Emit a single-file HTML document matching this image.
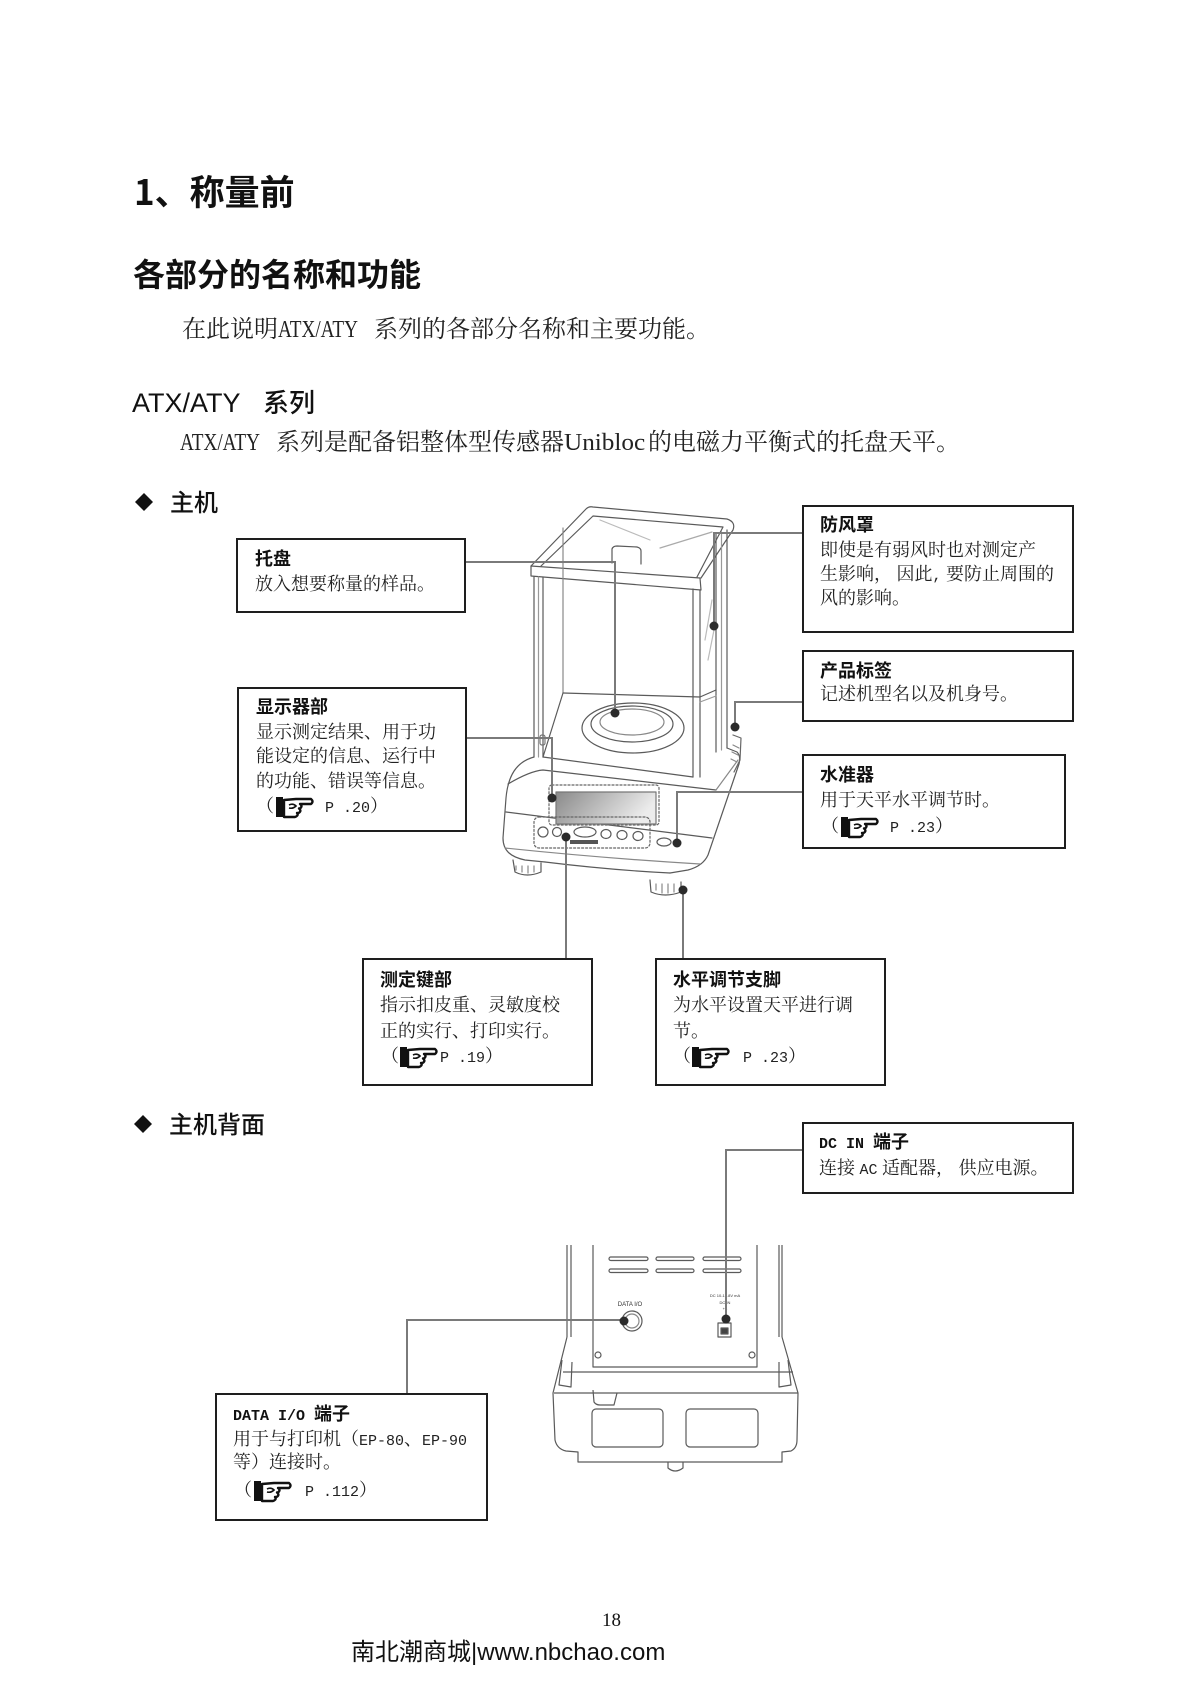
<!DOCTYPE html>
<html><head><meta charset="utf-8">
<style>
html,body{margin:0;padding:0;background:#fff;}
body{width:1200px;height:1695px;position:relative;overflow:hidden;}
.a{position:absolute;white-space:nowrap;}
.m{font-family:"Liberation Mono",monospace;font-size:0.834em;}
.box{position:absolute;border:2px solid #1e1e1e;box-sizing:border-box;background:transparent;}
.bt{position:absolute;font-family:"Liberation Sans","Noto Sans CJK SC",sans-serif;font-weight:700;font-size:18px;line-height:18px;color:#111;white-space:nowrap;}
.bt .m{font-family:"Liberation Mono",monospace;font-weight:700;font-size:15px;}
.bb{position:absolute;font-family:"Liberation Serif","Noto Serif CJK SC",serif;font-size:18px;line-height:18px;color:#222;white-space:nowrap;}
.bb .m{font-size:15px;}
.h{position:absolute;white-space:nowrap;color:#111;font-family:"Noto Sans CJK SC",sans-serif;}
.p{position:absolute;white-space:nowrap;color:#222;font-family:"Noto Serif CJK SC",serif;font-size:24px;line-height:24px;}
.lw{display:inline-block;overflow:visible;white-space:nowrap;}
.ls{display:inline-block;font-family:"Liberation Serif",serif;transform-origin:0 0;}
</style></head>
<body>

<svg width="1200" height="1695" style="position:absolute;left:0;top:0" xmlns="http://www.w3.org/2000/svg">
<defs>
<linearGradient id="lcd" x1="0" y1="0" x2="1" y2="0.3">
<stop offset="0" stop-color="#8a8a8a"/><stop offset="1" stop-color="#ececec"/>
</linearGradient>
</defs>

<polygon points="144,493 153,502 144,511 135,502" fill="#111"/>
<polygon points="143,1115 152,1124 143,1133 134,1124" fill="#111"/>

<g stroke="#5a5a5a" stroke-width="1.2" fill="none" stroke-linejoin="round" stroke-linecap="round">
<path d="M531,566 L586,509 Q589,506 593,507 L727,519 Q736,522 733,530 L701,578"/>
<path d="M531,566 L700,578 L701,590 L531,576 Z"/>
<path d="M541,566 L593,516 L723,527 L697,577"/>
<path d="M612,563 L612,549 Q613,546 617,546 L637,547 Q641,548 641,551 L641,564"/>
<path d="M660,548 L712,532" stroke="#aaa"/>
<path d="M600,520 L650,540" stroke="#bbb"/>
<path d="M534,577 V757 M543,577 V757"/>
<path d="M538.5,577 V757" stroke="#999"/>
<path d="M693,589 V777 M700,590 V777"/>
<path d="M716,534 V752 M727,530 V748"/>
<path d="M721.5,532 V750" stroke="#999"/>
<path d="M563,528 V693" stroke="#888"/>
<path d="M563,693 L700,697"/>
<path d="M543,757 L563,693"/>
<path d="M543,757 L693,777"/>
<path d="M700,697 L716,690"/>
<path d="M700,702 L716,696" stroke="#999"/>
<path d="M705,640 L712,600 M708,660 L714,630" stroke="#bbb"/>
<rect x="540" y="735" width="5" height="10" rx="2" stroke="#777"/>
<ellipse cx="633" cy="728" rx="51" ry="25"/>
<ellipse cx="632" cy="724" rx="41" ry="18"/>
<ellipse cx="632" cy="722" rx="32" ry="13" stroke="#888"/>
<path d="M534,757 C516,762 508,776 506,798 L503,838 C503,851 511,857 525,860 L545,862"/>
<path d="M545,862 Q610,870 670,873"/>
<path d="M727,748 L737,752 Q741,756 739,764 L708,855 Q703,866 688,870 L670,873"/>
<path d="M508,784 Q530,771 543,770 L716,790"/>
<path d="M506,812 Q600,824 712,838"/>
<path d="M505,848 Q600,858 700,864" stroke="#888"/>
<path d="M716,790 L738,760" stroke="#888"/>
<path d="M733,735 L741,738 L740,760 L734,772" stroke="#666"/>
<path d="M733,745 L739,748 M732,752 L738,755 M731,759 L737,762" stroke="#888"/>
<rect x="549" y="785" width="110" height="40" rx="3" stroke="#666" stroke-dasharray="2,2"/>
<rect x="556" y="792" width="100" height="32" fill="url(#lcd)" stroke="#777"/>
<rect x="534" y="817" width="116" height="31" rx="5" stroke="#666" stroke-dasharray="2,2"/>
<circle cx="543" cy="832" r="5"/>
<circle cx="557" cy="832" r="4.5"/>
<ellipse cx="585" cy="832" rx="11" ry="5"/>
<ellipse cx="606" cy="834" rx="5" ry="4.5"/>
<ellipse cx="622" cy="835" rx="5" ry="4.5"/>
<ellipse cx="638" cy="836" rx="5" ry="4.5"/>
<ellipse cx="664" cy="842" rx="7" ry="4"/>
<rect x="570" y="840" width="28" height="4" fill="#555" stroke="none"/>
<path d="M513,860 L515,872 Q527,878 541,872 L541,863"/>
<path d="M516,866 L516,870 M522,866 L522,872 M528,866 L528,873 M534,866 L534,872" stroke="#888"/>
<path d="M650,880 L651,892 Q665,898 681,892 L681,882"/>
<path d="M656,884 L656,890 M662,884 L662,893 M668,884 L668,893 M674,884 L674,892" stroke="#888"/>
</g>

<g stroke="#7a7a7a" stroke-width="2" fill="none">
<path d="M466,562 H615 V713"/>
<path d="M467,738 H552 V798"/>
<path d="M802,533 H714 V626"/>
<path d="M802,702 H735 V727"/>
<path d="M802,792 H677 V843"/>
<path d="M566,837 V958"/>
<path d="M683,890 V958"/>
</g>
<g fill="#2b2b2b">
<circle cx="615" cy="713" r="4.5"/>
<circle cx="552" cy="798" r="4.5"/>
<circle cx="714" cy="626" r="4.5"/>
<circle cx="735" cy="727" r="4.5"/>
<circle cx="677" cy="843" r="4.5"/>
<circle cx="566" cy="837" r="4.5"/>
<circle cx="683" cy="890" r="4.5"/>
</g>

<g stroke="#5a5a5a" stroke-width="1.2" fill="none" stroke-linejoin="round">
<path d="M567,1245 V1337 M571,1245 V1337"/>
<path d="M593,1245 V1367 H757 V1245"/>
<path d="M779,1245 V1337 M782,1245 V1337"/>
<rect x="609" y="1257" width="39" height="3.5" rx="1.7"/>
<rect x="656" y="1257" width="38" height="3.5" rx="1.7"/>
<rect x="703" y="1257" width="38" height="3.5" rx="1.7"/>
<rect x="609" y="1269" width="39" height="3.5" rx="1.7"/>
<rect x="656" y="1269" width="38" height="3.5" rx="1.7"/>
<rect x="703" y="1269" width="38" height="3.5" rx="1.7"/>
<path d="M567,1337 L553,1393 L555,1440 Q557,1449 566,1451 L578,1452 L578,1462 L782,1462 L782,1452 L791,1451 Q797,1448 797,1440 L798,1393 L782,1337"/>
<path d="M554,1393 H798"/>
<path d="M563,1372 H793"/>
<path d="M562,1360 L559,1385 L571,1387 L572,1362"/>
<path d="M779,1362 L779,1387 L791,1385 L788,1360"/>
<rect x="592" y="1409" width="71" height="38" rx="4"/>
<rect x="686" y="1409" width="72" height="38" rx="4"/>
<path d="M593,1390 L594,1402 Q596,1405 600,1405 L614,1405 L617,1393"/>
<path d="M668,1462 L668,1468 Q675,1474 683,1468 L683,1462"/>
<circle cx="598" cy="1355" r="3"/>
<circle cx="752" cy="1355" r="3"/>
<circle cx="632" cy="1321" r="10"/>
<circle cx="632" cy="1321" r="7" stroke="#888"/>
<rect x="718" y="1323" width="13" height="14"/>
<rect x="721" y="1328" width="7" height="6" fill="#444"/>
</g>
<text x="630" y="1306" font-family="Liberation Sans,sans-serif" font-size="6" text-anchor="middle" fill="#333">DATA I/O</text>
<text x="725" y="1297" font-family="Liberation Sans,sans-serif" font-size="4" text-anchor="middle" fill="#333">DC 10-15.8V    mA</text>
<text x="725" y="1304" font-family="Liberation Sans,sans-serif" font-size="4" text-anchor="middle" fill="#333">DC IN</text>
<text x="725" y="1310" font-family="Liberation Sans,sans-serif" font-size="4" text-anchor="middle" fill="#333">+ -</text>

<g stroke="#7a7a7a" stroke-width="2" fill="none">
<path d="M802,1150 H726 V1319"/>
<path d="M407,1393 V1320 H624"/>
</g>
<circle cx="726" cy="1319" r="4.5" fill="#2b2b2b"/>
<circle cx="624" cy="1321" r="4.5" fill="#2b2b2b"/>

<g transform="translate(276,795)">
<rect x="0" y="2" width="7" height="20" fill="#111"/>
<path d="M8,5 L20,4 L35,4 Q38,6.5 35,9 L24,9 Q27,11 24,13.5 L23,13.5 Q26,16 22.5,18 L21,18 Q23,20.5 19,22 L8,22 Z" fill="#fff" stroke="#111" stroke-width="2.4" stroke-linejoin="round"/>
<path d="M13,10 Q17,8 20,11 Q17,14 13,13" fill="none" stroke="#111" stroke-width="1.6"/>
</g>
<g transform="translate(841,815)">
<rect x="0" y="2" width="7" height="20" fill="#111"/>
<path d="M8,5 L20,4 L35,4 Q38,6.5 35,9 L24,9 Q27,11 24,13.5 L23,13.5 Q26,16 22.5,18 L21,18 Q23,20.5 19,22 L8,22 Z" fill="#fff" stroke="#111" stroke-width="2.4" stroke-linejoin="round"/>
<path d="M13,10 Q17,8 20,11 Q17,14 13,13" fill="none" stroke="#111" stroke-width="1.6"/>
</g>
<g transform="translate(400,1045)">
<rect x="0" y="2" width="7" height="20" fill="#111"/>
<path d="M8,5 L20,4 L35,4 Q38,6.5 35,9 L24,9 Q27,11 24,13.5 L23,13.5 Q26,16 22.5,18 L21,18 Q23,20.5 19,22 L8,22 Z" fill="#fff" stroke="#111" stroke-width="2.4" stroke-linejoin="round"/>
<path d="M13,10 Q17,8 20,11 Q17,14 13,13" fill="none" stroke="#111" stroke-width="1.6"/>
</g>
<g transform="translate(692,1045)">
<rect x="0" y="2" width="7" height="20" fill="#111"/>
<path d="M8,5 L20,4 L35,4 Q38,6.5 35,9 L24,9 Q27,11 24,13.5 L23,13.5 Q26,16 22.5,18 L21,18 Q23,20.5 19,22 L8,22 Z" fill="#fff" stroke="#111" stroke-width="2.4" stroke-linejoin="round"/>
<path d="M13,10 Q17,8 20,11 Q17,14 13,13" fill="none" stroke="#111" stroke-width="1.6"/>
</g>
<g transform="translate(254,1479)">
<rect x="0" y="2" width="7" height="20" fill="#111"/>
<path d="M8,5 L20,4 L35,4 Q38,6.5 35,9 L24,9 Q27,11 24,13.5 L23,13.5 Q26,16 22.5,18 L21,18 Q23,20.5 19,22 L8,22 Z" fill="#fff" stroke="#111" stroke-width="2.4" stroke-linejoin="round"/>
<path d="M13,10 Q17,8 20,11 Q17,14 13,13" fill="none" stroke="#111" stroke-width="1.6"/>
</g>
</svg>

<div class="h" style="left:134px;top:173px;font-size:35px;line-height:35px;font-weight:700;">1、称量前</div>
<div class="h" style="left:133px;top:257px;font-size:32px;line-height:32px;font-weight:700;">各部分的名称和功能</div>
<div class="p" style="left:182px;top:315px;">在此说明<span class="lw" style="width:96px;"><span class="ls" style="transform:scaleX(0.8);">ATX/ATY</span></span>系列的各部分名称和主要功能。</div>
<div class="a" style="left:132px;top:390px;font-family:'Liberation Sans',sans-serif;font-size:27px;line-height:27px;color:#111;">ATX/ATY</div>
<div class="h" style="left:263px;top:389px;font-size:26px;line-height:26px;font-weight:500;">系列</div>
<div class="p" style="left:180px;top:428px;"><span class="lw" style="width:96px;"><span class="ls" style="transform:scaleX(0.8);">ATX/ATY</span></span>系列是配备铝整体型传感器<span class="lw" style="width:84px;"><span class="ls" style="transform:scaleX(1.05);">Unibloc</span></span>的电磁力平衡式的托盘天平。</div>
<div class="h" style="left:170px;top:489px;font-size:24px;line-height:24px;font-weight:500;">主机</div>
<div class="h" style="left:169px;top:1111px;font-size:24px;line-height:24px;font-weight:500;">主机背面</div>

<div class="box" style="left:236px;top:538px;width:230px;height:75px;"></div>
<div class="bt" style="left:255px;top:550px;">托盘</div>
<div class="bb" style="left:255px;top:575px;">放入想要称量的样品。</div>

<div class="box" style="left:237px;top:687px;width:230px;height:145px;"></div>
<div class="bt" style="left:256px;top:698px;">显示器部</div>
<div class="bb" style="left:256px;top:723px;">显示测定结果、用于功</div>
<div class="bb" style="left:256px;top:747px;">能设定的信息、运行中</div>
<div class="bb" style="left:256px;top:772px;">的功能、错误等信息。</div>
<div class="bb" style="left:256px;top:797px;">（</div>
<div class="bb" style="left:325px;top:797px;"><span class="m">P .20</span>）</div>

<div class="box" style="left:802px;top:505px;width:272px;height:128px;"></div>
<div class="bt" style="left:820px;top:516px;">防风罩</div>
<div class="bb" style="left:820px;top:541px;">即使是有弱风时也对测定产</div>
<div class="bb" style="left:820px;top:565px;">生影响， 因此<span class="m">,</span> 要防止周围的</div>
<div class="bb" style="left:820px;top:589px;">风的影响。</div>

<div class="box" style="left:802px;top:650px;width:272px;height:72px;"></div>
<div class="bt" style="left:820px;top:662px;">产品标签</div>
<div class="bb" style="left:820px;top:685px;">记述机型名以及机身号。</div>

<div class="box" style="left:802px;top:754px;width:264px;height:95px;"></div>
<div class="bt" style="left:820px;top:766px;">水准器</div>
<div class="bb" style="left:820px;top:791px;">用于天平水平调节时。</div>
<div class="bb" style="left:821px;top:817px;">（</div>
<div class="bb" style="left:890px;top:817px;"><span class="m">P .23</span>）</div>

<div class="box" style="left:362px;top:958px;width:231px;height:128px;"></div>
<div class="bt" style="left:380px;top:971px;">测定键部</div>
<div class="bb" style="left:380px;top:996px;">指示扣皮重、灵敏度校</div>
<div class="bb" style="left:380px;top:1022px;">正的实行、打印实行。</div>
<div class="bb" style="left:381px;top:1047px;">（</div>
<div class="bb" style="left:440px;top:1047px;"><span class="m">P .19</span>）</div>

<div class="box" style="left:655px;top:958px;width:231px;height:128px;"></div>
<div class="bt" style="left:673px;top:971px;">水平调节支脚</div>
<div class="bb" style="left:673px;top:996px;">为水平设置天平进行调</div>
<div class="bb" style="left:673px;top:1022px;">节。</div>
<div class="bb" style="left:673px;top:1047px;">（</div>
<div class="bb" style="left:743px;top:1047px;"><span class="m">P .23</span>）</div>

<div class="box" style="left:802px;top:1122px;width:272px;height:72px;"></div>
<div class="bt" style="left:819px;top:1133px;"><span class="m">DC IN </span>端子</div>
<div class="bb" style="left:819px;top:1159px;">连接 <span class="m">AC</span> 适配器， 供应电源。</div>

<div class="box" style="left:215px;top:1393px;width:273px;height:128px;"></div>
<div class="bt" style="left:233px;top:1405px;"><span class="m">DATA I/O </span>端子</div>
<div class="bb" style="left:233px;top:1430px;">用于与打印机（<span class="m">EP-80</span>、<span class="m">EP-90</span></div>
<div class="bb" style="left:233px;top:1453px;">等）连接时。</div>
<div class="bb" style="left:234px;top:1481px;">（</div>
<div class="bb" style="left:305px;top:1481px;"><span class="m">P .112</span>）</div>

<div class="a" style="left:602px;top:1611px;font-family:'Liberation Serif',serif;font-size:19px;line-height:19px;color:#111;">18</div>
<div class="a" style="left:351px;top:1640px;font-family:'Liberation Sans','Noto Sans CJK SC',sans-serif;font-size:24px;line-height:26px;color:#111;">南北潮商城|www.nbchao.com</div>

</body></html>
